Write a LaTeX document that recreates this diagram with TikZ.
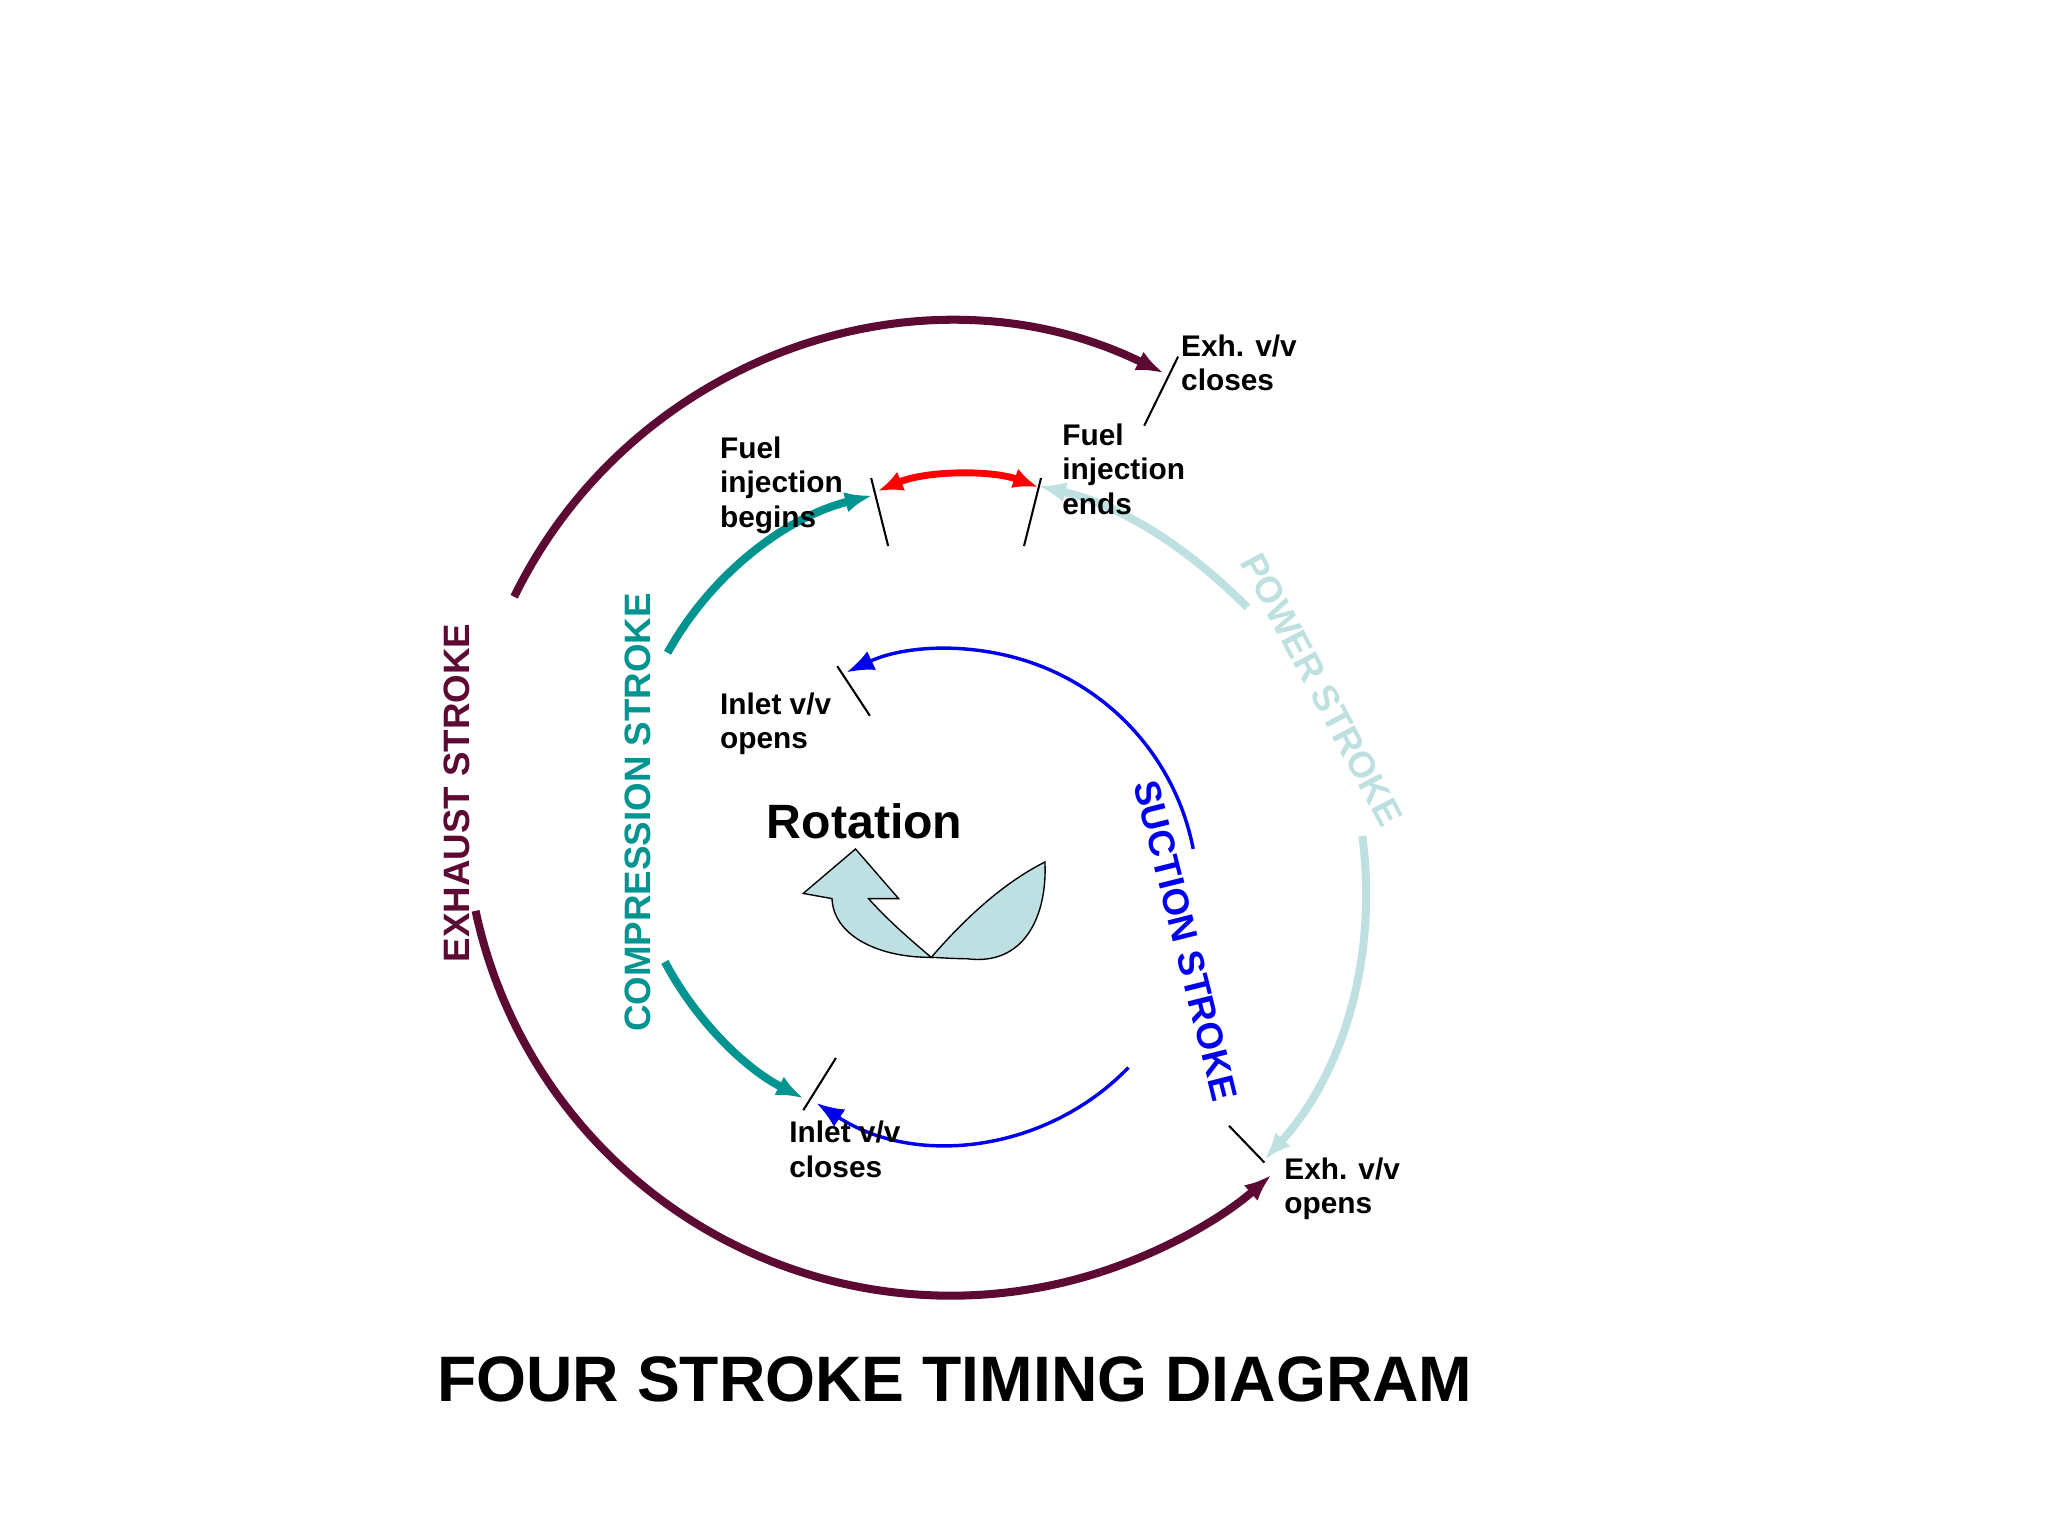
\documentclass[tikz,border=0pt]{standalone}
\usepackage{fontspec}
\setmainfont{Liberation Sans}
\usetikzlibrary{arrows.meta}
\definecolor{exh}{HTML}{5C0A33}
\definecolor{comp}{HTML}{009490}
\definecolor{pow}{HTML}{BFE0E0}
\definecolor{suc}{HTML}{0000EE}
\definecolor{rot}{HTML}{BFE0E3}
\tikzset{
 lbl/.style={font=\fontsize{13}{15}\selectfont\bfseries,align=left,anchor=north west,inner sep=0},
 stroke/.style={font=\fontsize{16}{18}\selectfont\bfseries,inner sep=0},
 tick/.style={black,line width=0.9pt},
 tip/.style={-{Latex[length=12pt,width=9pt]}}
}
\begin{document}
\begin{tikzpicture}[x=0.02cm,y=-0.02cm]
\useasboundingbox (0,0) rectangle (1568,1176);
\coordinate (C) at (728,620);
\coordinate (S) at (728,686);
% exhaust
\draw[exh,line width=3.5pt,tip] ([shift={(-154:372)}]C) arc[start angle=-154,end angle=-64,radius=372];
\draw[exh,line width=3.5pt] ([shift={(-192:372)}]C) arc[start angle=-192,end angle=-288,radius=372];
\draw[exh,line width=3.5pt,tip] ([shift={(72:372)}]C) arc[start angle=72,end angle=48.7,radius=372];
% compression
\draw[comp,line width=3.5pt,tip] ([shift={(-151:248)}]C) arc[start angle=-151,end angle=-104,radius=248];
\draw[comp,line width=3.5pt,tip] ([shift={(-208:248)}]C) arc[start angle=-208,end angle=-243,radius=248];
% power
\coordinate (p1) at (955,465);
\coordinate (p2) at (1043,640);
\draw[pow,line width=3.5pt,tip] (p1) .. controls (900,410) and (850,385) .. (795,372);
\draw[pow,line width=3.5pt,tip] (p2) .. controls (1055,730) and (1030,820) .. (968,888);
% fuel
\coordinate (fb) at (672,376);
\coordinate (fe) at (795,373);
\draw[red,line width=3pt,{Latex[length=11pt,width=9pt]}-{Latex[length=11pt,width=9pt]}] (fb) .. controls (710,360) and (760,360) .. (fe);
% suction
\draw[suc,line width=1.5pt,tip] ([shift={(-11:189)}]S) arc[start angle=-11,end angle=-115,radius=189];
\draw[suc,line width=1.5pt,tip] ([shift={(44:189)}]S) arc[start angle=44,end angle=123,radius=189];
% ticks
\draw[tick] (667,366) -- (680,418);
\draw[tick] (797,366) -- (784,418);
\draw[tick] (641,510) -- (666,548);
\draw[tick] (640,810) -- (615,850);
\draw[tick] (902,273) -- (876,326);
\draw[tick] (941,862) -- (968,890);
% labels
\node[lbl] (l1) at (904,256) {Exh. v/v\\closes};
\node[lbl] (l2) at (813,324) {Fuel\\injection\\ends};
\node[lbl] (l3) at (551,334) {Fuel\\injection\\begins};
\node[lbl] (l4) at (551,530) {Inlet v/v\\opens};
\node[lbl] (l5) at (604,858) {Inlet v/v\\closes};
\node[lbl] (l6) at (983,886) {Exh. v/v\\opens};
\node[font=\fontsize{21}{24}\selectfont\bfseries] (rt) at (662,629) {Rotation};
\node[font=\fontsize{28}{32}\selectfont\bfseries] (tt) at (731,1056) {FOUR STROKE TIMING DIAGRAM};
\node[stroke,exh,rotate=90] (se) at (350,607) {EXHAUST STROKE};
\node[stroke,comp,rotate=90] (sc) at (488,622) {COMPRESSION STROKE};
\node[stroke,pow,rotate=-62] (sp) at (1012,528) {POWER STROKE};
\node[stroke,suc,rotate=-76] (ss) at (908,720) {SUCTION STROKE};
% rotation icon
\draw[fill=rot,line width=0.6pt] (713,733) .. controls (750,690) and (780,670) .. (800,660) .. controls (802,700) and (785,740) .. (740,734) .. controls (728,734) and (718,733) .. (713,733) -- cycle;
\draw[fill=rot,line width=0.6pt] (713,733) .. controls (670,733) and (638,715) .. (637,688) -- (615,684) -- (655,650) -- (688,688) -- (665,688) .. controls (680,705) and (700,722) .. (713,733) -- cycle;
\end{tikzpicture}
\end{document}
